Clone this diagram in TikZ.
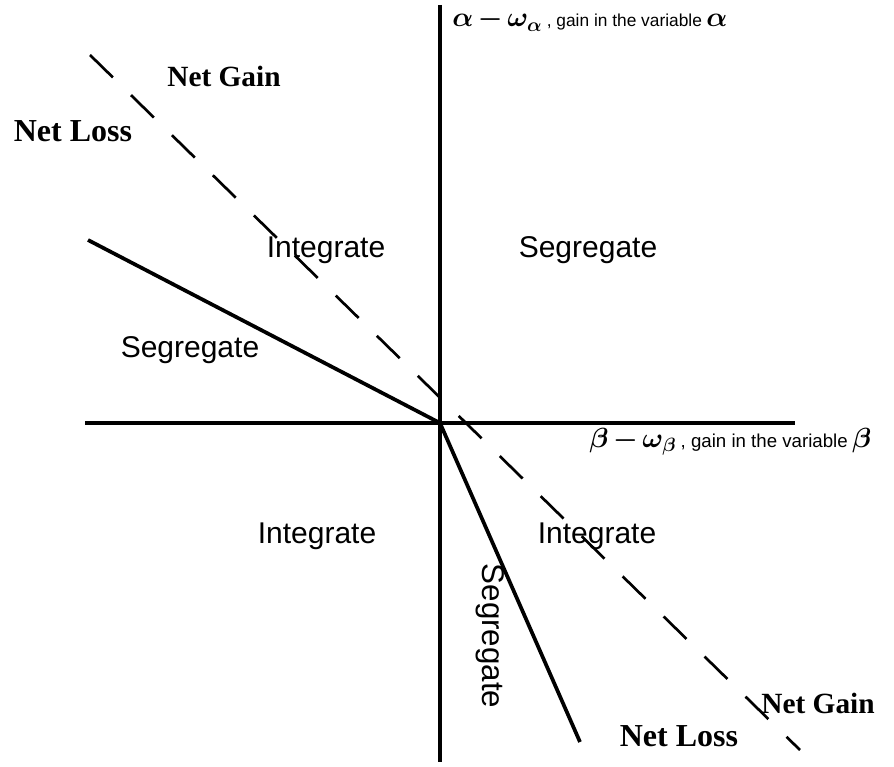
\documentclass[tikz,border=0pt]{standalone}
\usepackage{amsmath,bm}
\usepackage{fontspec}
\newfontfamily\sansf{Liberation Sans}
\newfontfamily\seriff{Liberation Serif}
\begin{document}
\begin{tikzpicture}[x=0.75pt,y=-0.75pt,
  axisline/.style={line width=2.6pt},
  boundary/.style={line width=2.8pt},
  netline/.style={line width=2pt,dash pattern=on 24pt off 19pt},
  region/.style={font=\sansf\fontsize{22.5}{26}\selectfont,inner sep=0pt},
  netlab/.style={font=\seriff\bfseries\fontsize{22}{26}\selectfont,inner sep=0pt},
  axlab/.style={inner sep=0pt,anchor=base west}]
\useasboundingbox (0,0) rectangle (894,767);
\coordinate (O) at (440,423);
\coordinate (yT) at (440,5);
\coordinate (yB) at (440,762);
\coordinate (xL) at (85,423);
\coordinate (xR) at (795,423);
\coordinate (sA) at (88,240);
\coordinate (sB) at (580,742);
\coordinate (dA) at (90,55);
\coordinate (dB) at (800,750);
\draw[axisline] (yT) -- (yB);
\draw[axisline] (xL) -- (xR);
\draw[boundary] (sA) -- (O) -- (sB);
\draw[netline] (dA) -- (dB);
\node[netlab] (ng1) at (224,76) {Net Gain};
\node[netlab,font=\seriff\bfseries\fontsize{24}{28}\selectfont] (nl1) at (73,131) {Net Loss};
\node[netlab] (ng2) at (818,703) {Net Gain};
\node[netlab,font=\seriff\bfseries\fontsize{24}{28}\selectfont] (nl2) at (679,736) {Net Loss};
\node[region] (i1) at (326,250) {Integrate};
\node[region] (s1) at (588,250) {Segregate};
\node[region] (s2) at (190,350) {Segregate};
\node[region] (i2) at (317,536) {Integrate};
\node[region] (i3) at (597,536) {Integrate};
\node[region,rotate=-90,font=\sansf\fontsize{23.5}{26}\selectfont] (s3) at (490,636) {Segregate};
\node[axlab] (ya) at (452,27) {\fontsize{20}{24}\selectfont$\bm{\alpha}\,{\boldsymbol{-}}\,\bm{\omega}_{\bm{\alpha}}$\,{\sansf\fontsize{13}{15}\selectfont, gain in the variable}\,$\bm{\alpha}$};
\node[axlab] (xa) at (589,447) {\fontsize{20}{24}\selectfont$\bm{\beta}\,{\boldsymbol{-}}\,\bm{\omega}_{\bm{\beta}}$\,{\sansf\fontsize{14}{17}\selectfont, gain in the variable}\,$\bm{\beta}$};
\end{tikzpicture}
\end{document}
